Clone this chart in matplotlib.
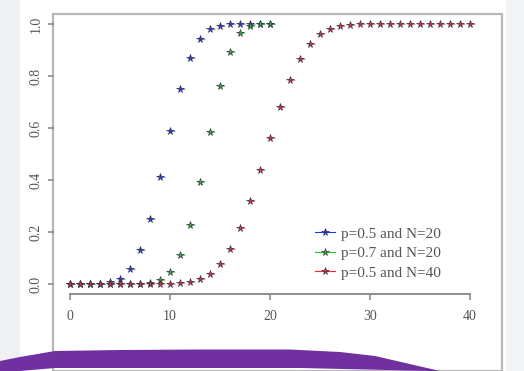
import matplotlib.pyplot as plt
from matplotlib.patches import Rectangle, Polygon

# Data: cumulative binomial probabilities
k20 = list(range(0, 21))
k40 = list(range(0, 41))
cdf_05_20 = [0.0000, 0.0000, 0.0002, 0.0013, 0.0059, 0.0207, 0.0577, 0.1316,
             0.2517, 0.4119, 0.5881, 0.7483, 0.8684, 0.9423, 0.9793, 0.9941,
             0.9987, 0.9998, 1.0000, 1.0000, 1.0000]
cdf_07_20 = [0.0000, 0.0000, 0.0000, 0.0000, 0.0000, 0.0000, 0.0003, 0.0013,
             0.0051, 0.0171, 0.0480, 0.1133, 0.2277, 0.3920, 0.5836, 0.7625,
             0.8929, 0.9645, 0.9924, 0.9992, 1.0000]
cdf_05_40 = [0.0000, 0.0000, 0.0000, 0.0000, 0.0000, 0.0000, 0.0000, 0.0000,
             0.0001, 0.0003, 0.0011, 0.0032, 0.0083, 0.0192, 0.0403, 0.0769,
             0.1341, 0.2148, 0.3179, 0.4373, 0.5627, 0.6821, 0.7852, 0.8659,
             0.9231, 0.9597, 0.9808, 0.9917, 0.9968, 0.9989, 0.9997, 0.9999,
             1.0000, 1.0000, 1.0000, 1.0000, 1.0000, 1.0000, 1.0000, 1.0000,
             1.0000]
labels = ['p=0.5 and N=20', 'p=0.7 and N=20', 'p=0.5 and N=40']
colors = ['#2233ff', '#22cc22', '#ff2233']
x_ticks = [0, 10, 20, 30, 40]
y_ticks = [0.0, 0.2, 0.4, 0.6, 0.8, 1.0]

plt.rcParams['font.family'] = ['Liberation Serif', 'DejaVu Serif']

fig = plt.figure(figsize=(5.24, 3.71), dpi=100)
W, H = 524, 371

# page background strips and frame
fig.patches.append(Rectangle((0, 0), 20 / W, 1, transform=fig.transFigure,
                             facecolor='#eef0f4', edgecolor='none', zorder=0))
fig.patches.append(Rectangle((506 / W, 0), 18 / W, 1, transform=fig.transFigure,
                             facecolor='#f3f4f6', edgecolor='none', zorder=0))
fig.patches.append(Rectangle((53 / W, 0), 449 / W, 1 - 14 / H,
                             transform=fig.transFigure, facecolor='none',
                             edgecolor='#b8b8b8', linewidth=1.6, zorder=1))

ax = fig.add_axes([54 / W, 1 - 294.4 / H, 432 / W, 280.8 / H], zorder=2)
ax.patch.set_alpha(0)

series = [(k20, cdf_05_20), (k20, cdf_07_20), (k40, cdf_05_40)]
for (k, v), c, lab in zip(series, colors, labels):
    ax.errorbar(k, v, xerr=[[0] * len(k), [0.5] * len(k)], fmt='none',
                ecolor=c, elinewidth=0.8, alpha=0.5)
    ax.plot(k, v, linestyle='-', linewidth=0, marker='*', markersize=5.5,
            color=c, markeredgecolor='#333344', markeredgewidth=0.5,
            label=lab)

ax.set_xlim(-1.6, 41.6)
ax.set_ylim(-0.04, 1.04)
for s in ['top', 'right', 'left']:
    ax.spines[s].set_visible(False)
ax.spines['bottom'].set_bounds(0, 40)
ax.spines['bottom'].set_color('#8c8c8c')
ax.spines['bottom'].set_linewidth(1.4)
ax.set_xticks(x_ticks)
ax.set_xticklabels([str(t) for t in x_ticks])
ax.set_yticks(y_ticks)
ax.set_yticklabels([f'{t:.1f}' for t in y_ticks], rotation=90, va='center')
ax.tick_params(axis='both', colors='#8c8c8c', labelcolor='#555555',
               labelsize=10, length=4, width=1.2)
ax.tick_params(axis='x', pad=7)
ax.tick_params(axis='y', pad=4)

leg = ax.legend(loc='upper left', bbox_to_anchor=(0.59, 0.262), frameon=False,
                fontsize=11, handlelength=1.3, handletextpad=0.4,
                labelspacing=0.38, borderaxespad=0)
for t in leg.get_texts():
    t.set_color('#555555')
for h in leg.legend_handles:
    h.set_linewidth(0.8)

# purple decoration along the bottom
top = [(0, 361), (20, 357), (55, 351), (120, 350), (200, 349.5), (290, 349.5),
       (340, 352), (375, 356), (440, 371)]
bottom = [(430, 371), (300, 368), (55, 368), (20, 371), (0, 371)]
pts = [(x / W, 1 - y / H) for x, y in top + bottom]
fig.patches.append(Polygon(pts, closed=True, transform=fig.transFigure,
                           facecolor='#7030a0', edgecolor='none', zorder=5))

fig.savefig('out.png', dpi=100)
